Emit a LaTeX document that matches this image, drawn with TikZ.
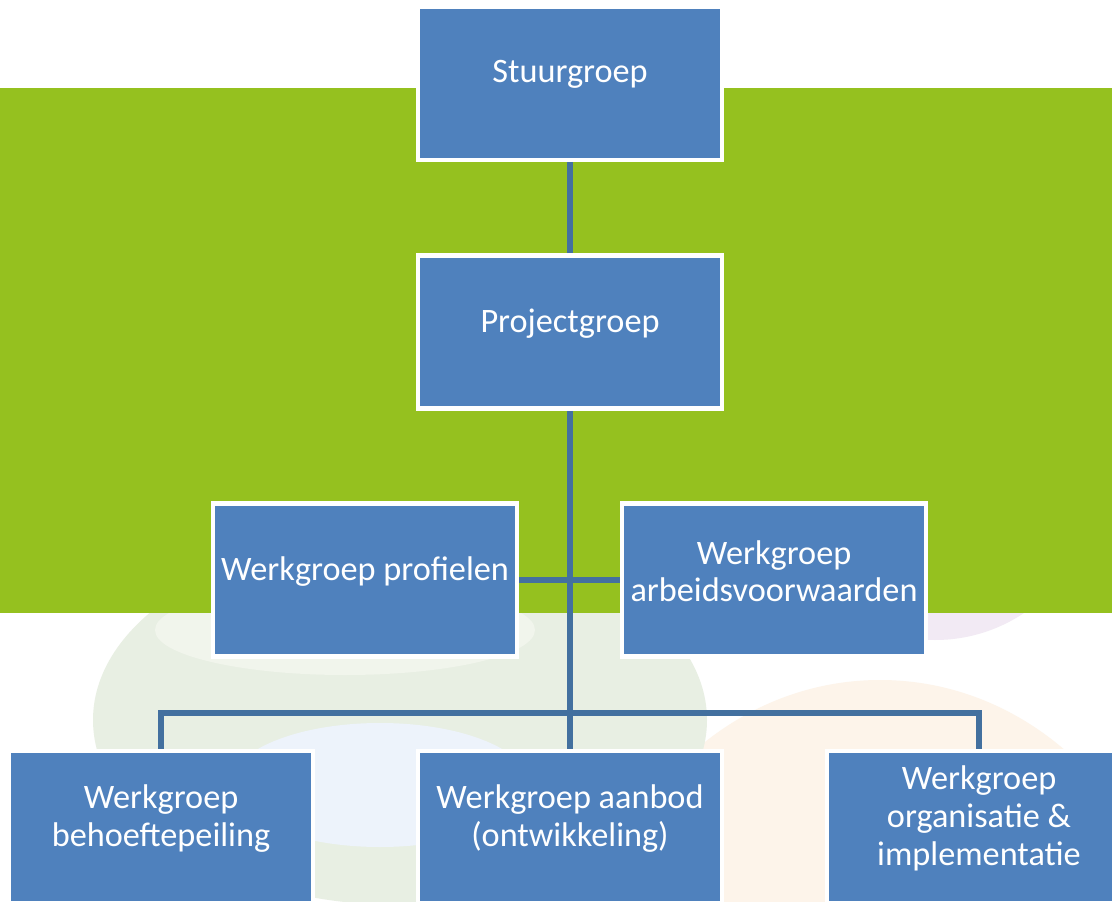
\documentclass[tikz,border=0pt]{standalone}
\usepackage{fontspec}
\setmainfont{Carlito}
\usepackage{xcolor}
\usepackage{tikz}
\usetikzlibrary{positioning}
\pgfdeclarelayer{bglayer}
\pgfdeclarelayer{edgelayer}
\pgfdeclarelayer{nodelayer}
\pgfsetlayers{bglayer,edgelayer,nodelayer,main}
\definecolor{boxblue}{HTML}{4F81BD}
\definecolor{lineblue}{HTML}{43709F}
\definecolor{bandgreen}{HTML}{95C11F}
\definecolor{fadegreen}{HTML}{E8EFE3}
\definecolor{fadelight}{HTML}{F1F5EC}
\definecolor{fadeblue}{HTML}{EDF3FB}
\definecolor{fadeorange}{HTML}{FDF4EA}
\definecolor{fadepurple}{HTML}{F2EAF4}
\tikzset{
  box/.style={rectangle, fill=boxblue, draw=white, line width=2.3pt,
    minimum width=6.08cm, minimum height=3.06cm, inner sep=0pt},
  boxtext/.style={text=white, align=center, inner sep=0pt,
    font=\fontsize{19.5}{21.5}\selectfont, yshift=5pt},
  link/.style={draw=lineblue, line width=3.3pt}
}

\begin{document}
\begin{tikzpicture}[x=0.02cm, y=-0.02cm]
  \useasboundingbox (0,0) rectangle (1112,902);
  \begin{pgfonlayer}{bglayer}
    \fill [white] (0,0) rectangle (1112,902);
    \fill [fadeorange] (880,1010) ellipse [x radius=300, y radius=330];
    \fill [fadegreen] (400,720) ellipse [x radius=307, y radius=185];
    \fill [fadelight] (345,630) ellipse [x radius=190, y radius=45];
    \fill [fadeblue] (380,785) ellipse [x radius=150, y radius=62];
    \fill [fadepurple] (935,480) circle [radius=160];
    \fill [bandgreen] (0,88) rectangle (1112,613);
  \end{pgfonlayer}
  \begin{pgfonlayer}{nodelayer}
    \node [box] (0) at (570, 83.5) {};
    \node [box] (1) at (570, 332) {};
    \node [box] (2) at (365, 580) {};
    \node [box] (3) at (774, 580) {};
    \node [box] (4) at (161, 827) {};
    \node [box] (5) at (570, 827) {};
    \node [box] (6) at (979, 827) {};
    \node [boxtext] (0t) at (0) {Stuurgroep};
    \node [boxtext] (1t) at (1) {Projectgroep};
    \node [boxtext] (2t) at (2) {Werkgroep profielen};
    \node [boxtext] (3t) at (3) {Werkgroep\\arbeidsvoorwaarden};
    \node [boxtext] (4t) at (4) {Werkgroep\\behoeftepeiling};
    \node [boxtext] (5t) at (5) {Werkgroep aanbod\\(ontwikkeling)};
    \node [boxtext] (6t) at (6) {Werkgroep\\organisatie \&\\implementatie};
    \coordinate (7) at (570, 713);
  \end{pgfonlayer}
  \begin{pgfonlayer}{edgelayer}
    \draw [link] (0) to (1);
    \draw [link] (1) to (5);
    \draw [link] (2) to (3);
    \draw [link] (4) |- (7) -| (6);
  \end{pgfonlayer}
\end{tikzpicture}
\end{document}
